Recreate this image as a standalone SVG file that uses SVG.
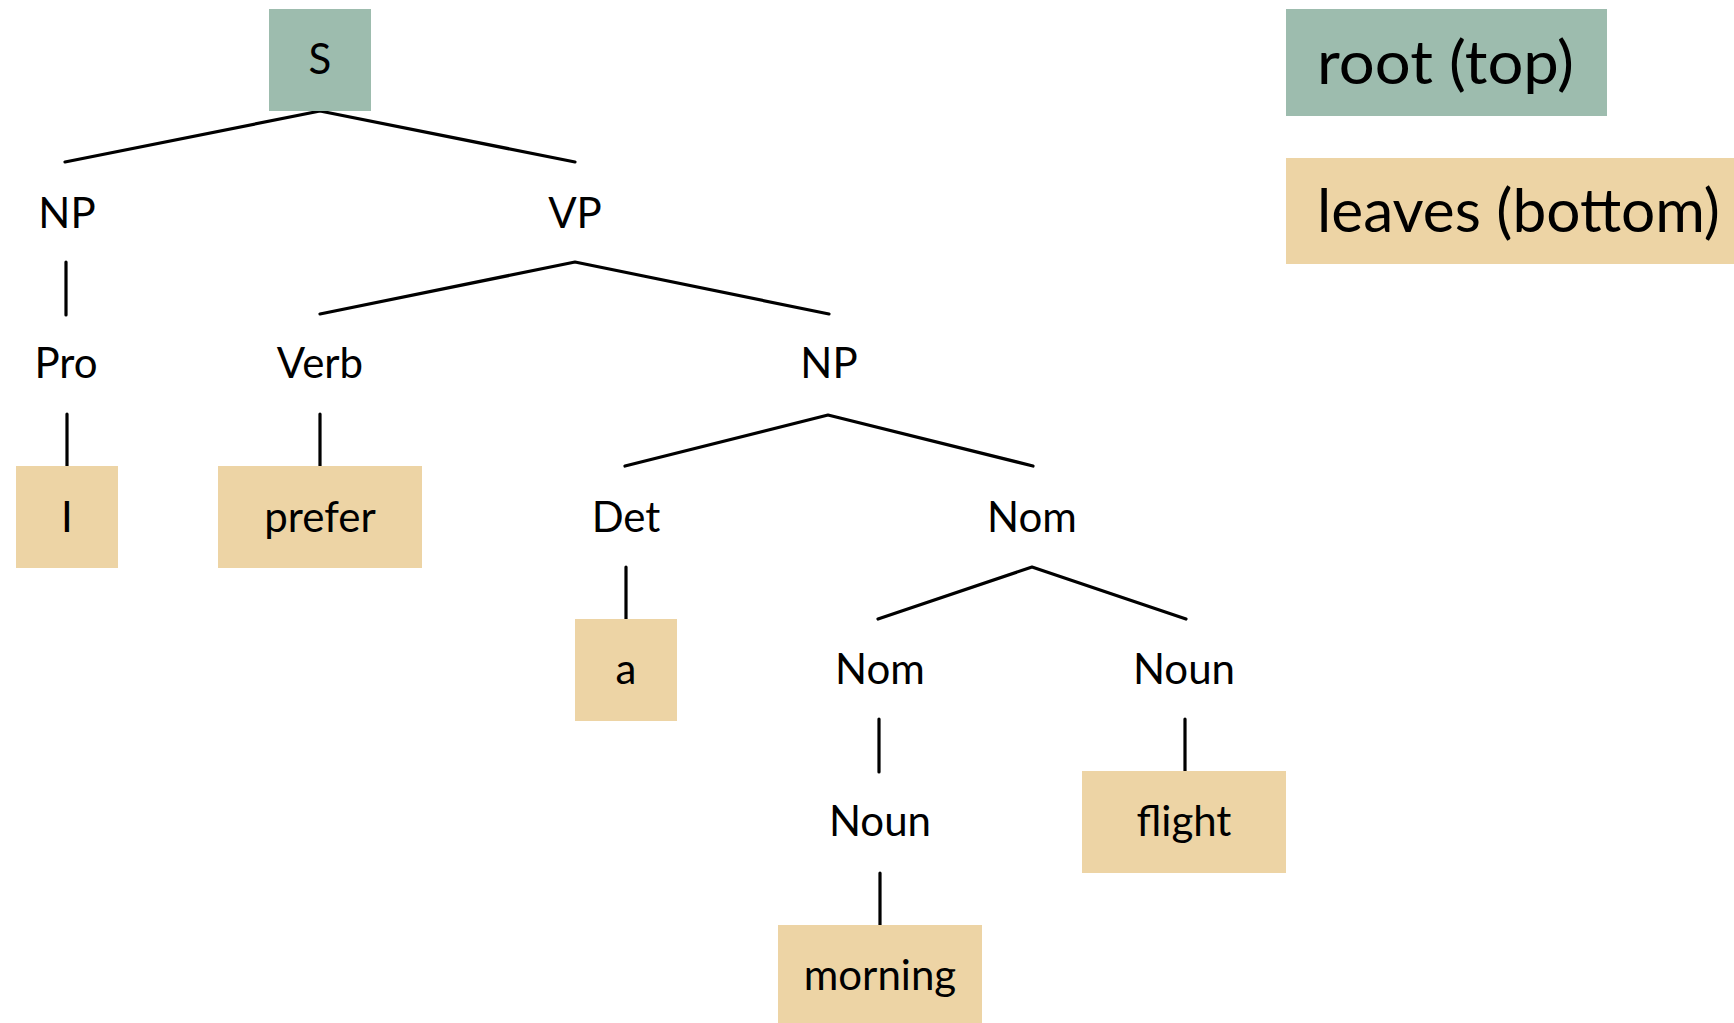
<svg xmlns="http://www.w3.org/2000/svg" width="1734" height="1023" viewBox="0 0 1734 1023">
<style>
.lbl{font-family:Lato,"Open Sans","Liberation Sans",sans-serif;font-size:42px;fill:#000;text-anchor:middle}
.leg{font-family:Lato,"Open Sans","Liberation Sans",sans-serif;font-size:60px;fill:#000}
.root{fill:#9dbcae}
.leaf{fill:#edd4a5}
.edge{stroke:#000;stroke-width:3.2;fill:none;stroke-linecap:round;stroke-linejoin:round}
</style>
<rect width="1734" height="1023" fill="#fff"/>
<g id="connectors">
<polyline class="edge" points="65,162 320,111 575,162"/>
<line class="edge" x1="66" y1="262" x2="66" y2="315"/>
<polyline class="edge" points="320,314 575,262 829,314"/>
<line class="edge" x1="67" y1="414" x2="67" y2="466"/>
<line class="edge" x1="320" y1="414" x2="320" y2="467"/>
<polyline class="edge" points="625,466 828,415 1033,466"/>
<line class="edge" x1="626" y1="567" x2="626" y2="619"/>
<polyline class="edge" points="878,619 1032,567 1186,619"/>
<line class="edge" x1="879" y1="719" x2="879" y2="772"/>
<line class="edge" x1="1185" y1="719" x2="1185" y2="772"/>
<line class="edge" x1="880" y1="873" x2="880" y2="925"/>
</g>
<g id="node-S"><rect class="root" x="269" y="9" width="102" height="102"/><text class="lbl" x="320" y="74">S</text></g>
<g id="node-NP1"><text class="lbl" x="67" y="228">NP</text></g>
<g id="node-VP"><text class="lbl" x="575" y="228">VP</text></g>
<g id="node-Pro"><text class="lbl" x="66" y="378">Pro</text></g>
<g id="node-Verb"><text class="lbl" x="320" y="378">Verb</text></g>
<g id="node-NP2"><text class="lbl" x="829" y="378">NP</text></g>
<g id="node-I"><rect class="leaf" x="16" y="466" width="102" height="102"/><text class="lbl" x="67" y="532">I</text></g>
<g id="node-prefer"><rect class="leaf" x="218" y="466" width="204" height="102"/><text class="lbl" x="320" y="532">prefer</text></g>
<g id="node-Det"><text class="lbl" x="626" y="532">Det</text></g>
<g id="node-Nom1"><text class="lbl" x="1032" y="532">Nom</text></g>
<g id="node-a"><rect class="leaf" x="575" y="619" width="102" height="102"/><text class="lbl" x="626" y="684">a</text></g>
<g id="node-Nom2"><text class="lbl" x="880" y="684">Nom</text></g>
<g id="node-Noun1"><text class="lbl" x="1184" y="684">Noun</text></g>
<g id="node-Noun2"><text class="lbl" x="880" y="836">Noun</text></g>
<g id="node-flight"><rect class="leaf" x="1082" y="771" width="204" height="102"/><text class="lbl" x="1184" y="836">flight</text></g>
<g id="node-morning"><rect class="leaf" x="778" y="925" width="204" height="102"/><text class="lbl" x="880" y="990">morning</text></g>
<g id="legend-root"><rect class="root" x="1286" y="9" width="321" height="107"/><text class="leg" x="1317" y="84" textLength="257" lengthAdjust="spacingAndGlyphs">root (top)</text></g>
<g id="legend-leaves"><rect class="leaf" x="1286" y="158" width="448" height="106"/><text class="leg" x="1317" y="232" textLength="403" lengthAdjust="spacingAndGlyphs">leaves (bottom)</text></g>
</svg>
